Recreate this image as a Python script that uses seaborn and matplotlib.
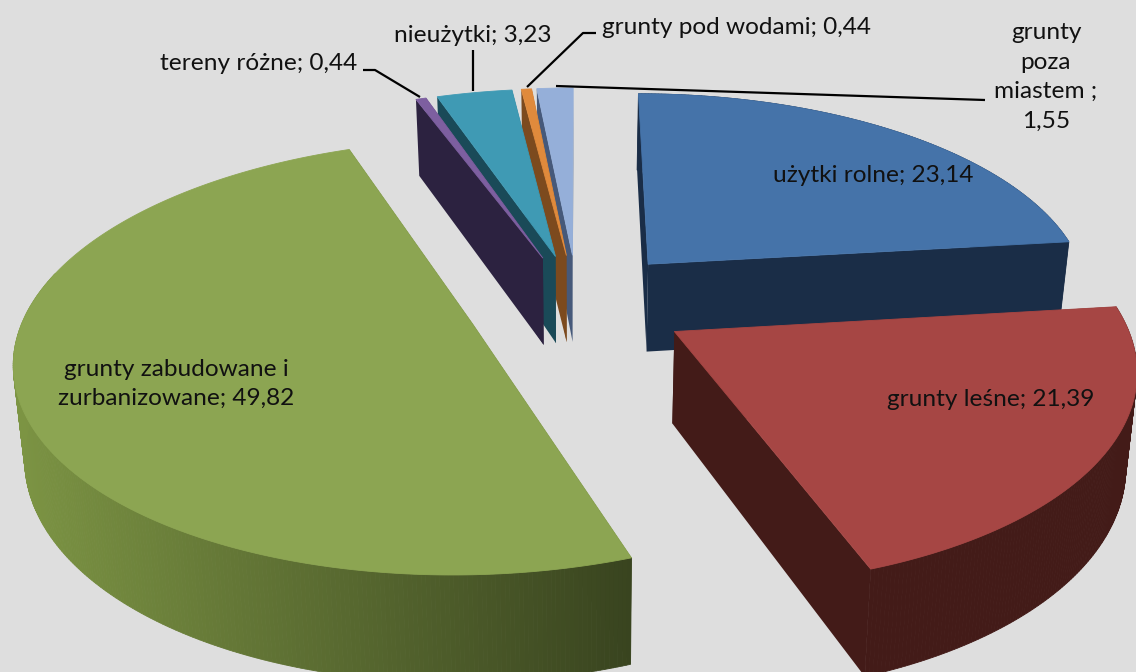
import numpy as np
import matplotlib
matplotlib.use("Agg")
import matplotlib.pyplot as plt
import seaborn as sns

categories = ["użytki rolne", "grunty leśne", "grunty zabudowane i\nzurbanizowane", "tereny różne",
              "nieużytki", "grunty pod wodami", "grunty\npoza\nmiastem ;"]
values = [23.14, 21.39, 49.82, 0.44, 3.23, 0.44, 1.55]
value_labels = ["23,14", "21,39", "49,82", "0,44", "3,23", "0,44", "1,55"]
top_colors = ["#4573A9", "#A64644", "#8CA552", "#7D5FA0", "#3F9AB4", "#E08A3C", "#95AFD9"]
wall_colors = ["#1A2D47", "#431B18", "#39441F", "#2C2240", "#1A4A58", "#7C4A1E", "#46597A"]

sns.set_theme(style="white")
plt.rcParams["font.family"] = ["Lato", "DejaVu Sans"]

fig = plt.figure(figsize=(11.36, 6.72), dpi=100, facecolor="#DEDEDE")
ax = fig.add_axes([0, 0, 1, 1])
ax.set_xlim(0, 1136)
ax.set_ylim(672, 0)
ax.axis("off")

X0, Y0, A, B, K, E, D = 572, 302, 445, 207, 0.15, 0.265, 90
SHRINK = 0.98
nudge_x = [0, 0, 13, 9, 9, 7, 6]
nudge_y = [2, 0, 3, 6, 6, 6, 6]


def project(u, v, depth=0.0, dx=0.0, dy=0.0):
    s = 1 / (1 - K * v)
    x = A * u * s
    if depth:
        x = x * SHRINK
    return X0 + x + dx, Y0 + B * v * s + depth * s + dy


def mix(c, t):
    rgb = np.array(matplotlib.colors.to_rgb(c))
    return tuple(np.clip(rgb * t, 0, 1))


angles = np.cumsum([0] + values) / sum(values) * 2 * np.pi
order = [6, 5, 4, 3, 0, 2, 1]
for i in order:
    a0, a1 = angles[i], angles[i + 1]
    mid = (a0 + a1) / 2
    ox, oy = E * np.sin(mid), -E * np.cos(mid)
    nx, ny = nudge_x[i], nudge_y[i]
    th = np.linspace(a0, a1, max(4, int(np.degrees(a1 - a0) * 2)))
    us = ox + np.sin(th)
    vs = oy - np.cos(th)
    # radial walls
    for t in (a0, a1):
        u1, v1 = ox + np.sin(t), oy - np.cos(t)
        p0 = project(ox, oy, 0, nx, ny)
        p1 = project(u1, v1, 0, nx, ny)
        p2 = project(u1, v1, D, nx, ny)
        p3 = project(ox, oy, D, nx, ny)
        ax.fill([p0[0], p1[0], p2[0], p3[0]], [p0[1], p1[1], p2[1], p3[1]], color=wall_colors[i], lw=0)
    # rim as shaded strips, lighter on the left
    for j in range(len(th) - 1):
        if np.cos((th[j] + th[j + 1]) / 2) > 0.25 and i != 0:
            continue
        p0, p1 = project(us[j], vs[j], 0, nx, ny), project(us[j + 1], vs[j + 1], 0, nx, ny)
        p2, p3 = project(us[j + 1], vs[j + 1], D, nx, ny), project(us[j], vs[j], D, nx, ny)
        shade = 2.2 - 1.2 * (p0[0] / 632) if i == 2 else 1.0
        ax.fill([p0[0], p1[0], p2[0], p3[0]], [p0[1], p1[1], p2[1], p3[1]],
                color=mix(wall_colors[i], shade), lw=0.6)
    pc = project(ox, oy, 0, nx, ny)
    px, py = project(us, vs, 0, nx, ny)
    ax.fill(np.r_[pc[0], px], np.r_[pc[1], py], color=top_colors[i], lw=0.6)

txt = dict(ha="center", va="center", fontsize=17.6, color="#111111", linespacing=1.5)
ax.text(873, 175, f"{categories[0]}; {value_labels[0]}", **txt)
ax.text(991, 399, f"{categories[1]}; {value_labels[1]}", **txt)
ax.text(176, 384, f"{categories[2]}; {value_labels[2]}", **txt)
ax.text(259, 64, f"{categories[3]}; {value_labels[3]}", **txt)
ax.text(473, 36, f"{categories[4]}; {value_labels[4]}", **txt)
ax.text(737, 27, f"{categories[5]}; {value_labels[5]}", **txt)
ax.text(1046, 77, f"{categories[6]}\n{value_labels[6]}", **txt)

lk = dict(color="black", lw=1.6, solid_capstyle="butt")
ax.plot([363, 375, 420], [70, 70, 97], **lk)
ax.plot([473, 473], [50, 91], **lk)
ax.plot([596, 583, 527], [33, 33, 87], **lk)
ax.plot([985, 556], [100, 86], **lk)

fig.savefig("out.png", dpi=100, facecolor=fig.get_facecolor())
